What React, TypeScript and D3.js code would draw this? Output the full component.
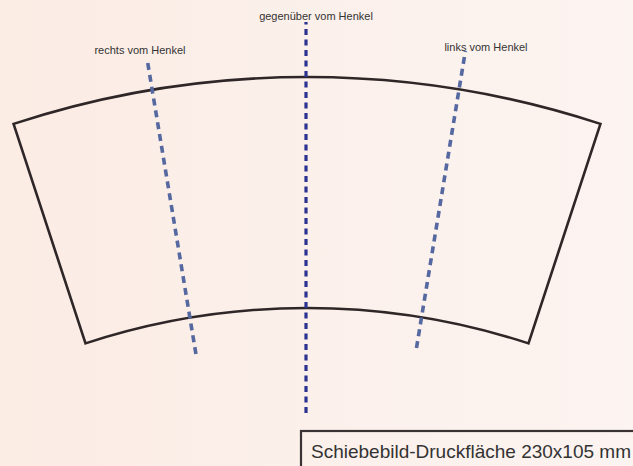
import * as d3 from 'd3';
import {useEffect, useRef} from 'react';

// Template geometry (cup wrap print area)
const sectorRadii = [711, 942]; // inner, outer
const sectorHalfAngle = 18.15; // degrees
const guideLabels = ['rechts vom Henkel', 'gegenüber vom Henkel', 'links vom Henkel'];
const guideAngles = [-9.4, 0, 9.35]; // degrees
const guideRadii = [
	[674, 972],
	[606, 997],
	[680, 981],
];
const captionText = 'Schiebebild-Druckfläche 230x105 mm';

const width = 633;
const height = 466;

export default function App() {
	const svgRef = useRef<SVGSVGElement>(null);

	useEffect(() => {
		document.body.style.margin = '0';
		const svg = d3.select(svgRef.current).attr('width', width).attr('height', height);
		svg.selectAll('*').remove();

		const defs = svg.append('defs');
		const grad = defs
			.append('linearGradient')
			.attr('id', 'bg')
			.attr('x1', '0%')
			.attr('x2', '100%')
			.attr('y1', '0%')
			.attr('y2', '0%');
		grad.append('stop').attr('offset', '0%').attr('stop-color', '#fbece4');
		grad.append('stop').attr('offset', '100%').attr('stop-color', '#fcf4f1');

		svg.append('rect').attr('width', width).attr('height', height).attr('fill', 'url(#bg)');

		const cx = 307;
		const cy = 1019;
		const rad = (deg: number) => (deg * Math.PI) / 180;

		const g = svg.append('g').attr('transform', `translate(${cx},${cy})`);

		const arc = d3
			.arc()
			.innerRadius(sectorRadii[0])
			.outerRadius(sectorRadii[1])
			.startAngle(rad(-sectorHalfAngle))
			.endAngle(rad(sectorHalfAngle));

		g.append('path')
			.attr('d', arc({} as any) as string)
			.attr('fill', 'none')
			.attr('stroke', '#2e2627')
			.attr('stroke-width', 2.6)
			.attr('stroke-linejoin', 'miter');

		const guides = svg.append('g').attr('transform', `translate(${cx - 1},${cy})`);
		guideAngles.forEach((a, i) => {
			const [r0, r1] = guideRadii[i];
			const p0 = d3.pointRadial(rad(a), r0);
			const p1 = d3.pointRadial(rad(a), r1);
			const center = a === 0;
			guides
				.append('line')
				.attr('x1', p0[0])
				.attr('y1', p0[1])
				.attr('x2', p1[0])
				.attr('y2', p1[1])
				.attr('stroke', center ? '#2b3391' : '#5668a0')
				.attr('stroke-width', center ? 3.2 : 3.6)
				.attr('stroke-dasharray', center ? '6,4.5' : '7,5');
		});

		const labelPos = [
			[140, 54],
			[316, 20],
			[486, 51],
		];
		svg.selectAll('.guide-label')
			.data(guideLabels)
			.join('text')
			.attr('class', 'guide-label')
			.attr('x', (_, i) => labelPos[i][0])
			.attr('y', (_, i) => labelPos[i][1])
			.attr('text-anchor', 'middle')
			.style('font-family', '"Liberation Sans", Arial, sans-serif')
			.style('font-size', '11px')
			.style('fill', '#333')
			.text((d) => d);

		svg.append('rect')
			.attr('x', 301)
			.attr('y', 431)
			.attr('width', 340)
			.attr('height', 50)
			.attr('fill', 'none')
			.attr('stroke', '#3a3333')
			.attr('stroke-width', 2.2);

		svg.append('text')
			.attr('x', 311)
			.attr('y', 458)
			.style('font-family', '"Liberation Sans", Arial, sans-serif')
			.style('font-size', '19px')
			.style('fill', '#333')
			.text(captionText);
	}, []);

	return <svg ref={svgRef} style={{display: 'block'}} />;
}
